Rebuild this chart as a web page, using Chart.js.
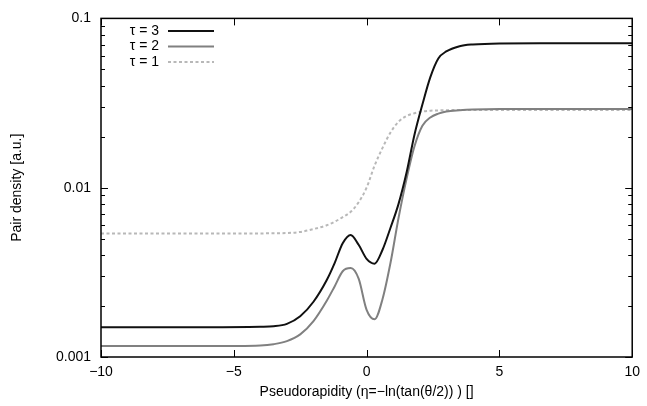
<!DOCTYPE html>
<html>
<head>
<meta charset="utf-8">
<script src="https://cdn.jsdelivr.net/npm/chart.js@4/dist/chart.umd.min.js"></script>
<style>
  html, body { margin: 0; padding: 0; background: #ffffff; }
  #wrap { width: 647px; height: 406px; position: relative; }
</style>
</head>
<body>
<div id="wrap"><canvas id="c" width="647" height="406"></canvas></div>
<script>
// ---- data ----
const etaValues = [-10, -6, -4, -3.5, -3, -2.5, -2, -1.5, -1.2, -0.9, -0.6, -0.3, 0, 0.3, 0.6, 0.9, 1.2, 1.5, 1.8, 2.1, 2.4, 2.7, 3.0, 3.5, 4, 5, 7, 10];
const tau3 = [0.00150, 0.00150, 0.00151, 0.00152, 0.00157, 0.00174, 0.00212, 0.00285, 0.0036, 0.0047, 0.00526, 0.0046, 0.0038, 0.00356, 0.0043, 0.0058, 0.0080, 0.0122, 0.0205, 0.031, 0.045, 0.058, 0.0638, 0.0685, 0.0702, 0.0712, 0.0714, 0.0714];
const tau2 = [0.00116, 0.00116, 0.00117, 0.00119, 0.00124, 0.00136, 0.00163, 0.00215, 0.00262, 0.00321, 0.00335, 0.0029, 0.0019, 0.00167, 0.0022, 0.0036, 0.0066, 0.0112, 0.0175, 0.0232, 0.0260, 0.0274, 0.0282, 0.0287, 0.0290, 0.0292, 0.0292, 0.0292];
const tau1 = [0.00536, 0.00536, 0.00537, 0.00538, 0.0054, 0.00548, 0.0057, 0.0060, 0.0063, 0.0067, 0.0072, 0.0082, 0.0100, 0.0135, 0.0172, 0.0212, 0.0245, 0.0265, 0.0275, 0.0282, 0.0285, 0.0286, 0.0287, 0.0288, 0.0288, 0.0288, 0.0288, 0.0288];
const seriesLabels = ['τ = 3', 'τ = 2', 'τ = 1'];
const xTickValues = [-10, -5, 0, 5, 10];
const yTickValues = [0.001, 0.01, 0.1];
const xTitle = 'Pseudorapidity (η=−ln(tan(θ/2)) ) []';
const yTitle = 'Pair density [a.u.]';

const FONT = "'Liberation Sans', Arial, Helvetica, sans-serif";

function pts(ys) { return etaValues.map((x, i) => ({ x: x, y: ys[i] })); }

const styles = [
  { color: '#111111', dash: [] },
  { color: '#808080', dash: [] },
  { color: '#b8b8b8', dash: [3, 2.5] }
];
const seriesValues = [tau3, tau2, tau1];

const datasets = seriesValues.map((vals, i) => ({
  label: seriesLabels[i],
  data: pts(vals),
  borderColor: styles[i].color,
  borderDash: styles[i].dash,
  borderWidth: 2,
  pointRadius: 0,
  fill: false,
  cubicInterpolationMode: 'monotone'
}));

const framePlugin = {
  id: 'frame',
  afterDraw(chart) {
    const ctx = chart.ctx;
    const a = chart.chartArea;
    const xs = chart.scales.x, ys = chart.scales.y;
    ctx.save();
    ctx.strokeStyle = '#000';
    ctx.lineWidth = 1.5;
    ctx.strokeRect(a.left, a.top, a.right - a.left, a.bottom - a.top);
    ctx.lineWidth = 1;
    ctx.beginPath();
    xTickValues.forEach(v => {
      const px = Math.round(xs.getPixelForValue(v)) + 0.5;
      ctx.moveTo(px, a.bottom); ctx.lineTo(px, a.bottom - 7);
      ctx.moveTo(px, a.top); ctx.lineTo(px, a.top + 7);
    });
    for (let e = -3; e <= -1; e++) {
      for (let m = 1; m <= 9; m++) {
        const v = m * Math.pow(10, e);
        if (v < 0.001 - 1e-12 || v > 0.1 + 1e-12) continue;
        const py = Math.round(ys.getPixelForValue(v)) + 0.5;
        const len = (m === 1) ? 7 : 4;
        ctx.moveTo(a.left, py); ctx.lineTo(a.left + len, py);
        ctx.moveTo(a.right, py); ctx.lineTo(a.right - len, py);
      }
    }
    ctx.stroke();
    ctx.font = '14px ' + FONT;
    ctx.fillStyle = '#000';
    ctx.textAlign = 'right';
    ctx.textBaseline = 'middle';
    const rows = [31, 46.5, 62];
    chart.data.datasets.forEach((ds, i) => {
      const y = rows[i];
      ctx.fillText(ds.label, 159, y);
      ctx.beginPath();
      ctx.strokeStyle = ds.borderColor;
      ctx.lineWidth = 2;
      ctx.setLineDash(ds.borderDash || []);
      ctx.moveTo(168, y); ctx.lineTo(214, y);
      ctx.stroke();
      ctx.setLineDash([]);
    });
    ctx.restore();
  }
};

new Chart(document.getElementById('c'), {
  type: 'line',
  data: { datasets: datasets },
  options: {
    responsive: false,
    animation: false,
    devicePixelRatio: 1,
    layout: { padding: { top: 14, right: 12, bottom: 0, left: 0 } },
    plugins: { legend: { display: false }, tooltip: { enabled: false } },
    scales: {
      x: {
        type: 'linear',
        min: -10, max: 10,
        afterFit(s) { s.height = 49; },
        afterBuildTicks(s) { s.ticks = xTickValues.map(v => ({ value: v })); },
        grid: { display: false, drawTicks: false },
        border: { display: false },
        ticks: {
          color: '#000',
          font: { family: FONT, size: 14 },
          padding: 7,
          maxRotation: 0,
          autoSkip: false,
          callback: v => String(v).replace('-', '−')
        },
        title: {
          display: true, text: xTitle, color: '#000',
          font: { family: FONT, size: 14 },
          padding: { top: 0, bottom: 5 }
        }
      },
      y: {
        type: 'logarithmic',
        min: 0.001, max: 0.1,
        afterFit(s) { s.width = 101; },
        afterBuildTicks(s) { s.ticks = yTickValues.map(v => ({ value: v })); },
        grid: { display: false, drawTicks: false },
        border: { display: false },
        ticks: {
          color: '#000',
          font: { family: FONT, size: 14 },
          padding: 10,
          autoSkip: false,
          callback: v => String(v)
        },
        title: {
          display: true, text: yTitle, color: '#000',
          font: { family: FONT, size: 14 },
          padding: { top: 9, bottom: 0 }
        }
      }
    }
  },
  plugins: [framePlugin]
});
</script>
</body>
</html>
